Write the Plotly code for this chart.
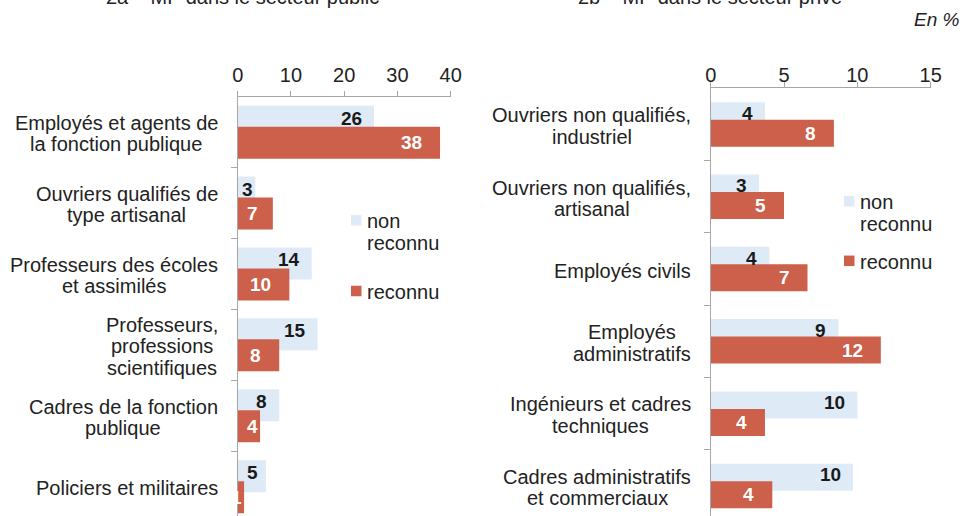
import plotly.graph_objects as go

# ---------------- data ----------------
SERIES = ["non reconnu", "reconnu"]

public_categories = [
    "Employés et agents de<br>la fonction publique",
    "Ouvriers qualifiés de<br>type artisanal",
    "Professeurs des écoles<br>et assimilés",
    "Professeurs,<br>professions<br>scientifiques",
    "Cadres de la fonction<br>publique",
    "Policiers et militaires",
]
public_non_reconnu = [25.6, 3.3, 13.9, 15.0, 7.8, 5.3]
public_reconnu = [38.0, 6.6, 9.7, 7.8, 4.2, 1.2]

private_categories = [
    "Ouvriers non qualifiés,<br>industriel",
    "Ouvriers non qualifiés,<br>artisanal",
    "Employés civils",
    "Employés<br>administratifs",
    "Ingénieurs et cadres<br>techniques",
    "Cadres administratifs<br>et commerciaux",
]
private_non_reconnu = [3.7, 3.3, 4.0, 8.7, 10.0, 9.7]
private_reconnu = [8.4, 5.0, 6.6, 11.6, 3.7, 4.2]

public_ticks = [0, 10, 20, 30, 40]
private_ticks = [0, 5, 10, 15]

title_public = "2a – MP dans le secteur public"
title_private = "2b – MP dans le secteur privé"
unit_label = "En %"

# ---------------- style ----------------
W, H = 965, 516
FONT = "Liberation Sans, Arial, sans-serif"
LIGHT = "#DEEBF7"
RED = "#CD604A"
AXIS = "#A6A6A6"
TXT = "#222222"
CAT_FS = 20
LINE_H = 21.5          # tight line spacing of the source
LABEL_FS = 19
DIGIT_W = 0.556 * LABEL_FS

# Arial / Liberation Sans advance widths (1/1000 em) for centring wrapped lines
_AW = {' ': 278, ',': 278, '.': 278, '-': 333,
       'a': 556, 'b': 556, 'c': 500, 'd': 556, 'e': 556, 'f': 278, 'g': 556,
       'h': 556, 'i': 222, 'j': 222, 'k': 500, 'l': 222, 'm': 833, 'n': 556,
       'o': 556, 'p': 556, 'q': 556, 'r': 333, 's': 500, 't': 278, 'u': 556,
       'v': 500, 'w': 722, 'x': 500, 'y': 500, 'z': 500, 'é': 556, 'è': 556,
       'C': 722, 'E': 667, 'I': 278, 'O': 778, 'P': 667}


def text_w(s, fs):
    return sum(_AW.get(ch, 556) for ch in s) * fs / 1000.0


# panel geometry (pixels)
L_X0, L_X1, L_TOP, L_STEP = 237.7, 450.7, 96.7, 70.9
R_X0, R_X1, R_TOP, R_STEP = 710.7, 930.7, 88.3, 72.3


def yrange(top, step):
    return [-0.5 + (H - top) / step, -0.5]


fig = go.Figure()

panels = [
    dict(cats=public_categories, nr=public_non_reconnu, r=public_reconnu,
         xa="x", ya="y", width=32 / L_STEP, sep=10.5 / L_STEP,
         lab_off=-14 / L_STEP, ppu=(L_X1 - L_X0) / 40, pad_nr=10, pad_r=16,
         lab_right=220, leg_x=351, leg_y=[220.3, 291]),
    dict(cats=private_categories, nr=private_non_reconnu, r=private_reconnu,
         xa="x2", ya="y2", width=27 / R_STEP, sep=8.75 / R_STEP,
         lab_off=-11 / R_STEP, ppu=(R_X1 - R_X0) / 15, pad_nr=10, pad_r=16,
         lab_right=693.3, leg_x=844, leg_y=[201.3, 260.8]),
]

annotations = []
shapes = []

for p in panels:
    pos = list(range(len(p["cats"])))
    w = p["width"]
    fig.add_trace(go.Bar(
        y=pos, x=p["nr"], orientation="h", name=SERIES[0],
        marker=dict(color=LIGHT, line=dict(width=0)),
        width=w, offset=-p["sep"] - w / 2,
        xaxis=p["xa"], yaxis=p["ya"], showlegend=False, hoverinfo="x+name",
    ))
    fig.add_trace(go.Bar(
        y=pos, x=p["r"], orientation="h", name=SERIES[1],
        marker=dict(color=RED, line=dict(width=0)),
        width=w, offset=p["sep"] - w / 2,
        xaxis=p["xa"], yaxis=p["ya"], showlegend=False, hoverinfo="x+name",
    ))
    # value labels (inside the bar end)
    for i, (vnr, vr) in enumerate(zip(p["nr"], p["r"])):
        for v, yy, col, P in ((vnr, i + p["lab_off"], "#1a1a1a", p["pad_nr"]),
                              (vr, i + p["sep"], "white", p["pad_r"])):
            txt = f"{v:.0f}"
            tw = DIGIT_W * len(txt)
            pad = min(P, max(0, v * p["ppu"] - tw - 12))
            annotations.append(dict(
                x=v, y=yy, xref=p["xa"], yref=p["ya"], text=f"<b>{txt}</b>",
                showarrow=False, xanchor="right", yanchor="middle",
                xshift=-pad, font=dict(family=FONT, size=LABEL_FS, color=col),
            ))
    # category labels: wrapped lines, centred on each other, right-aligned block
    for i, c in enumerate(p["cats"]):
        lines = c.split("<br>")
        widths = [text_w(s, CAT_FS) for s in lines]
        bw = max(widths)
        n = len(lines)
        for k, (s, lw) in enumerate(zip(lines, widths)):
            annotations.append(dict(
                x=p["lab_right"] / W, y=i, xref="paper", yref=p["ya"], text=s,
                showarrow=False, xanchor="right", yanchor="middle",
                xshift=-(bw - lw) / 2,
                yshift=-((k - (n - 1) / 2) * LINE_H + 1.5),
                font=dict(family=FONT, size=CAT_FS, color=TXT),
            ))
    # legend (drawn in the plot area, like the source)
    for name, col, yc in zip(SERIES, [LIGHT, RED], p["leg_y"]):
        sz = 10.5
        shapes.append(dict(
            type="rect", xref="paper", yref="paper",
            x0=p["leg_x"] / W, x1=(p["leg_x"] + sz) / W,
            y0=1 - (yc + sz / 2) / H, y1=1 - (yc - sz / 2) / H,
            fillcolor=col, line=dict(width=0),
        ))
        for k, s in enumerate(name.split(" ")):
            annotations.append(dict(
                x=(p["leg_x"] + sz + 3) / W, y=1 - (yc + 1 + k * 22) / H,
                xref="paper", yref="paper", text=s,
                showarrow=False, xanchor="left", yanchor="middle", align="left",
                font=dict(family=FONT, size=20, color=TXT),
            ))

# titles (cut at the top of the frame, as in the source) and unit
for t, xc in ((title_public, 243), (title_private, 710)):
    annotations.append(dict(
        x=xc / W, y=1, xref="paper", yref="paper", text=t, showarrow=False,
        xanchor="center", yanchor="bottom", yshift=-10,
        font=dict(family=FONT, size=20, color=TXT),
    ))
annotations.append(dict(
    x=962 / W, y=1 - 20 / H, xref="paper", yref="paper", text=f"<i>{unit_label}</i>",
    showarrow=False, xanchor="right", yanchor="middle",
    font=dict(family=FONT, size=19, color=TXT),
))

xaxis_common = dict(
    side="top", showgrid=False, zeroline=False, showline=True, linecolor=AXIS,
    linewidth=1, ticks="outside", ticklen=5, tickcolor=AXIS, automargin=False,
    tickfont=dict(family=FONT, size=20, color=TXT), fixedrange=True,
)
yaxis_common = dict(
    showgrid=False, zeroline=False, showline=True, linecolor=AXIS, linewidth=1,
    ticks="outside", ticklen=6, tickcolor=AXIS, showticklabels=False,
    tickvals=[0.5, 1.5, 2.5, 3.5, 4.5], fixedrange=True, automargin=False,
)

fig.update_layout(
    template="none",
    width=W, height=H, margin=dict(l=0, r=0, t=0, b=0, pad=0, autoexpand=False),
    paper_bgcolor="white", plot_bgcolor="white",
    barmode="overlay", showlegend=False,
    font=dict(family=FONT, color=TXT),
    xaxis=dict(**xaxis_common, domain=[L_X0 / W, L_X1 / W], range=[0, 40],
               tickvals=public_ticks, anchor="y", ticklabelstandoff=1),
    yaxis=dict(**yaxis_common, domain=[0, 1 - L_TOP / H],
               range=yrange(L_TOP, L_STEP), anchor="x"),
    xaxis2=dict(**xaxis_common, domain=[R_X0 / W, R_X1 / W], range=[0, 15],
                tickvals=private_ticks, anchor="y2", ticklabelstandoff=-8),
    yaxis2=dict(**yaxis_common, domain=[0, 1 - R_TOP / H],
                range=yrange(R_TOP, R_STEP), anchor="x2"),
    annotations=annotations, shapes=shapes,
)

# remove the browser's default body margin so the figure fills the window
fig.write_html(
    "out.html",
    config={"displayModeBar": False},
    post_script="document.body.style.margin='0';document.body.style.overflow='hidden';",
)
